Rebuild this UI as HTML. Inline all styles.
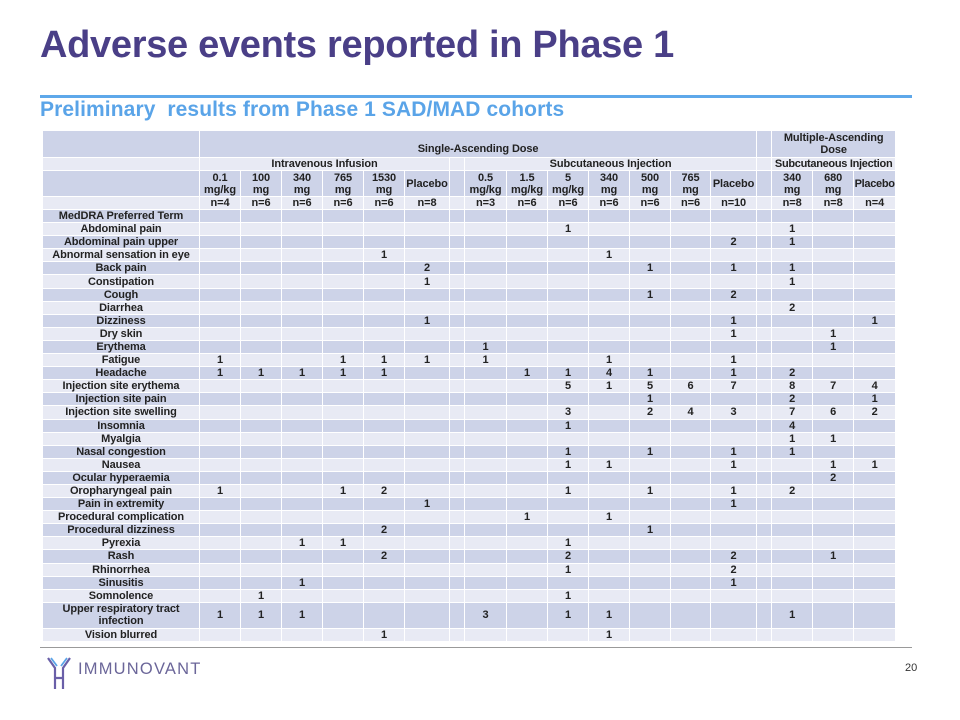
<!DOCTYPE html>
<html><head><meta charset="utf-8"><style>
body{margin:0;width:960px;height:720px;background:#fff;position:relative;overflow:hidden;font-family:"Liberation Sans",Arial,sans-serif}
.t{position:absolute;left:40px;top:24px;font-size:38px;font-weight:bold;color:#4a3f87;letter-spacing:-0.3px;white-space:nowrap}
.bl{position:absolute;left:40px;top:95px;width:872px;height:3px;background:#5ea8ea}
.st{position:absolute;left:40px;top:98px;font-size:21px;font-weight:bold;color:#5aa4e8;white-space:nowrap;letter-spacing:0.1px}
table{position:absolute;left:42px;top:130px;border-collapse:collapse;table-layout:fixed;width:853px;font-size:11px;font-weight:bold;color:#222;letter-spacing:-0.1px}
td,th{border:1px solid #fff;padding:0;text-align:center;font-weight:bold;line-height:12px;overflow:hidden;white-space:nowrap;text-overflow:clip}
.n{letter-spacing:-0.3px}
tr{height:13.1px}
.d td,.d th{background:#cdd3e8}
.l td,.l th{background:#e8eaf4}
.gl{position:absolute;left:40px;top:647px;width:872px;height:1px;background:#9a9a9a}
.logo{position:absolute;left:78px;top:660px;font-size:16.5px;letter-spacing:1.2px;color:#6b6699}
.pn{position:absolute;left:905px;top:662px;font-size:11px;color:#333}
</style></head><body>
<div class="t">Adverse events reported in Phase 1</div>
<div class="bl"></div>
<div class="st">Preliminary&nbsp; results from Phase 1 SAD/MAD cohorts</div>
<table>
<colgroup><col style="width:157px"><col style="width:41px"><col style="width:41px"><col style="width:41px"><col style="width:41px"><col style="width:41px"><col style="width:45px"><col style="width:15px"><col style="width:42px"><col style="width:41px"><col style="width:41px"><col style="width:41px"><col style="width:41px"><col style="width:40px"><col style="width:46px"><col style="width:15px"><col style="width:41px"><col style="width:41px"><col style="width:42px"></colgroup>
<tr class="d" style="height:27px"><th></th><td colspan="14" style="vertical-align:bottom;padding-bottom:2px">Single-Ascending Dose</td><td></td><td colspan="3">Multiple-Ascending<br>Dose</td></tr>
<tr class="l" style="height:13px"><th></th><td colspan="6">Intravenous Infusion</td><td></td><td colspan="7">Subcutaneous Injection</td><td></td><td colspan="3" class="n">Subcutaneous Injection</td></tr>
<tr class="d" style="height:26px"><th></th><td>0.1<br>mg/kg</td><td>100<br>mg</td><td>340<br>mg</td><td>765<br>mg</td><td>1530<br>mg</td><td>Placebo</td><td></td><td>0.5<br>mg/kg</td><td>1.5<br>mg/kg</td><td>5<br>mg/kg</td><td>340<br>mg</td><td>500<br>mg</td><td>765<br>mg</td><td>Placebo</td><td></td><td>340<br>mg</td><td>680<br>mg</td><td class="n">Placebo</td></tr>
<tr class="l" style="height:12px"><th></th><td>n=4</td><td>n=6</td><td>n=6</td><td>n=6</td><td>n=6</td><td>n=8</td><td></td><td>n=3</td><td>n=6</td><td>n=6</td><td>n=6</td><td>n=6</td><td>n=6</td><td>n=10</td><td></td><td>n=8</td><td>n=8</td><td>n=4</td></tr>
<tr class="d"><th>MedDRA Preferred Term</th><td></td><td></td><td></td><td></td><td></td><td></td><td></td><td></td><td></td><td></td><td></td><td></td><td></td><td></td><td></td><td></td><td></td><td></td></tr>
<tr class="l"><th>Abdominal pain</th><td></td><td></td><td></td><td></td><td></td><td></td><td></td><td></td><td></td><td>1</td><td></td><td></td><td></td><td></td><td></td><td>1</td><td></td><td></td></tr>
<tr class="d"><th>Abdominal pain upper</th><td></td><td></td><td></td><td></td><td></td><td></td><td></td><td></td><td></td><td></td><td></td><td></td><td></td><td>2</td><td></td><td>1</td><td></td><td></td></tr>
<tr class="l"><th>Abnormal sensation in eye</th><td></td><td></td><td></td><td></td><td>1</td><td></td><td></td><td></td><td></td><td></td><td>1</td><td></td><td></td><td></td><td></td><td></td><td></td><td></td></tr>
<tr class="d"><th>Back pain</th><td></td><td></td><td></td><td></td><td></td><td>2</td><td></td><td></td><td></td><td></td><td></td><td>1</td><td></td><td>1</td><td></td><td>1</td><td></td><td></td></tr>
<tr class="l"><th>Constipation</th><td></td><td></td><td></td><td></td><td></td><td>1</td><td></td><td></td><td></td><td></td><td></td><td></td><td></td><td></td><td></td><td>1</td><td></td><td></td></tr>
<tr class="d"><th>Cough</th><td></td><td></td><td></td><td></td><td></td><td></td><td></td><td></td><td></td><td></td><td></td><td>1</td><td></td><td>2</td><td></td><td></td><td></td><td></td></tr>
<tr class="l"><th>Diarrhea</th><td></td><td></td><td></td><td></td><td></td><td></td><td></td><td></td><td></td><td></td><td></td><td></td><td></td><td></td><td></td><td>2</td><td></td><td></td></tr>
<tr class="d"><th>Dizziness</th><td></td><td></td><td></td><td></td><td></td><td>1</td><td></td><td></td><td></td><td></td><td></td><td></td><td></td><td>1</td><td></td><td></td><td></td><td>1</td></tr>
<tr class="l"><th>Dry skin</th><td></td><td></td><td></td><td></td><td></td><td></td><td></td><td></td><td></td><td></td><td></td><td></td><td></td><td>1</td><td></td><td></td><td>1</td><td></td></tr>
<tr class="d"><th>Erythema</th><td></td><td></td><td></td><td></td><td></td><td></td><td></td><td>1</td><td></td><td></td><td></td><td></td><td></td><td></td><td></td><td></td><td>1</td><td></td></tr>
<tr class="l"><th>Fatigue</th><td>1</td><td></td><td></td><td>1</td><td>1</td><td>1</td><td></td><td>1</td><td></td><td></td><td>1</td><td></td><td></td><td>1</td><td></td><td></td><td></td><td></td></tr>
<tr class="d"><th>Headache</th><td>1</td><td>1</td><td>1</td><td>1</td><td>1</td><td></td><td></td><td></td><td>1</td><td>1</td><td>4</td><td>1</td><td></td><td>1</td><td></td><td>2</td><td></td><td></td></tr>
<tr class="l"><th>Injection site erythema</th><td></td><td></td><td></td><td></td><td></td><td></td><td></td><td></td><td></td><td>5</td><td>1</td><td>5</td><td>6</td><td>7</td><td></td><td>8</td><td>7</td><td>4</td></tr>
<tr class="d"><th>Injection site pain</th><td></td><td></td><td></td><td></td><td></td><td></td><td></td><td></td><td></td><td></td><td></td><td>1</td><td></td><td></td><td></td><td>2</td><td></td><td>1</td></tr>
<tr class="l"><th>Injection site swelling</th><td></td><td></td><td></td><td></td><td></td><td></td><td></td><td></td><td></td><td>3</td><td></td><td>2</td><td>4</td><td>3</td><td></td><td>7</td><td>6</td><td>2</td></tr>
<tr class="d"><th>Insomnia</th><td></td><td></td><td></td><td></td><td></td><td></td><td></td><td></td><td></td><td>1</td><td></td><td></td><td></td><td></td><td></td><td>4</td><td></td><td></td></tr>
<tr class="l"><th>Myalgia</th><td></td><td></td><td></td><td></td><td></td><td></td><td></td><td></td><td></td><td></td><td></td><td></td><td></td><td></td><td></td><td>1</td><td>1</td><td></td></tr>
<tr class="d"><th>Nasal congestion</th><td></td><td></td><td></td><td></td><td></td><td></td><td></td><td></td><td></td><td>1</td><td></td><td>1</td><td></td><td>1</td><td></td><td>1</td><td></td><td></td></tr>
<tr class="l"><th>Nausea</th><td></td><td></td><td></td><td></td><td></td><td></td><td></td><td></td><td></td><td>1</td><td>1</td><td></td><td></td><td>1</td><td></td><td></td><td>1</td><td>1</td></tr>
<tr class="d"><th>Ocular hyperaemia</th><td></td><td></td><td></td><td></td><td></td><td></td><td></td><td></td><td></td><td></td><td></td><td></td><td></td><td></td><td></td><td></td><td>2</td><td></td></tr>
<tr class="l"><th>Oropharyngeal pain</th><td>1</td><td></td><td></td><td>1</td><td>2</td><td></td><td></td><td></td><td></td><td>1</td><td></td><td>1</td><td></td><td>1</td><td></td><td>2</td><td></td><td></td></tr>
<tr class="d"><th>Pain in extremity</th><td></td><td></td><td></td><td></td><td></td><td>1</td><td></td><td></td><td></td><td></td><td></td><td></td><td></td><td>1</td><td></td><td></td><td></td><td></td></tr>
<tr class="l"><th>Procedural complication</th><td></td><td></td><td></td><td></td><td></td><td></td><td></td><td></td><td>1</td><td></td><td>1</td><td></td><td></td><td></td><td></td><td></td><td></td><td></td></tr>
<tr class="d"><th>Procedural dizziness</th><td></td><td></td><td></td><td></td><td>2</td><td></td><td></td><td></td><td></td><td></td><td></td><td>1</td><td></td><td></td><td></td><td></td><td></td><td></td></tr>
<tr class="l"><th>Pyrexia</th><td></td><td></td><td>1</td><td>1</td><td></td><td></td><td></td><td></td><td></td><td>1</td><td></td><td></td><td></td><td></td><td></td><td></td><td></td><td></td></tr>
<tr class="d"><th>Rash</th><td></td><td></td><td></td><td></td><td>2</td><td></td><td></td><td></td><td></td><td>2</td><td></td><td></td><td></td><td>2</td><td></td><td></td><td>1</td><td></td></tr>
<tr class="l"><th>Rhinorrhea</th><td></td><td></td><td></td><td></td><td></td><td></td><td></td><td></td><td></td><td>1</td><td></td><td></td><td></td><td>2</td><td></td><td></td><td></td><td></td></tr>
<tr class="d"><th>Sinusitis</th><td></td><td></td><td>1</td><td></td><td></td><td></td><td></td><td></td><td></td><td></td><td></td><td></td><td></td><td>1</td><td></td><td></td><td></td><td></td></tr>
<tr class="l"><th>Somnolence</th><td></td><td>1</td><td></td><td></td><td></td><td></td><td></td><td></td><td></td><td>1</td><td></td><td></td><td></td><td></td><td></td><td></td><td></td><td></td></tr>
<tr class="d" style="height:26px"><th>Upper respiratory tract<br>infection</th><td>1</td><td>1</td><td>1</td><td></td><td></td><td></td><td></td><td>3</td><td></td><td>1</td><td>1</td><td></td><td></td><td></td><td></td><td>1</td><td></td><td></td></tr>
<tr class="l"><th>Vision blurred</th><td></td><td></td><td></td><td></td><td>1</td><td></td><td></td><td></td><td></td><td></td><td>1</td><td></td><td></td><td></td><td></td><td></td><td></td><td></td></tr>
</table>
<div class="gl"></div>
<svg style="position:absolute;left:46px;top:656px" width="26" height="34" viewBox="0 0 26 34"><path d="M2 2 L9 12 L9 33 M24 2 L17 12 L17 33 M9 22 L17 22" stroke="#6a5fa8" stroke-width="2.2" fill="none"/><path d="M5 2 L11 10 M21 2 L15 10" stroke="#5aa4e8" stroke-width="1.8" fill="none"/></svg>
<div class="logo">IMMUNOVANT</div>
<div class="pn">20</div>
</body></html>
